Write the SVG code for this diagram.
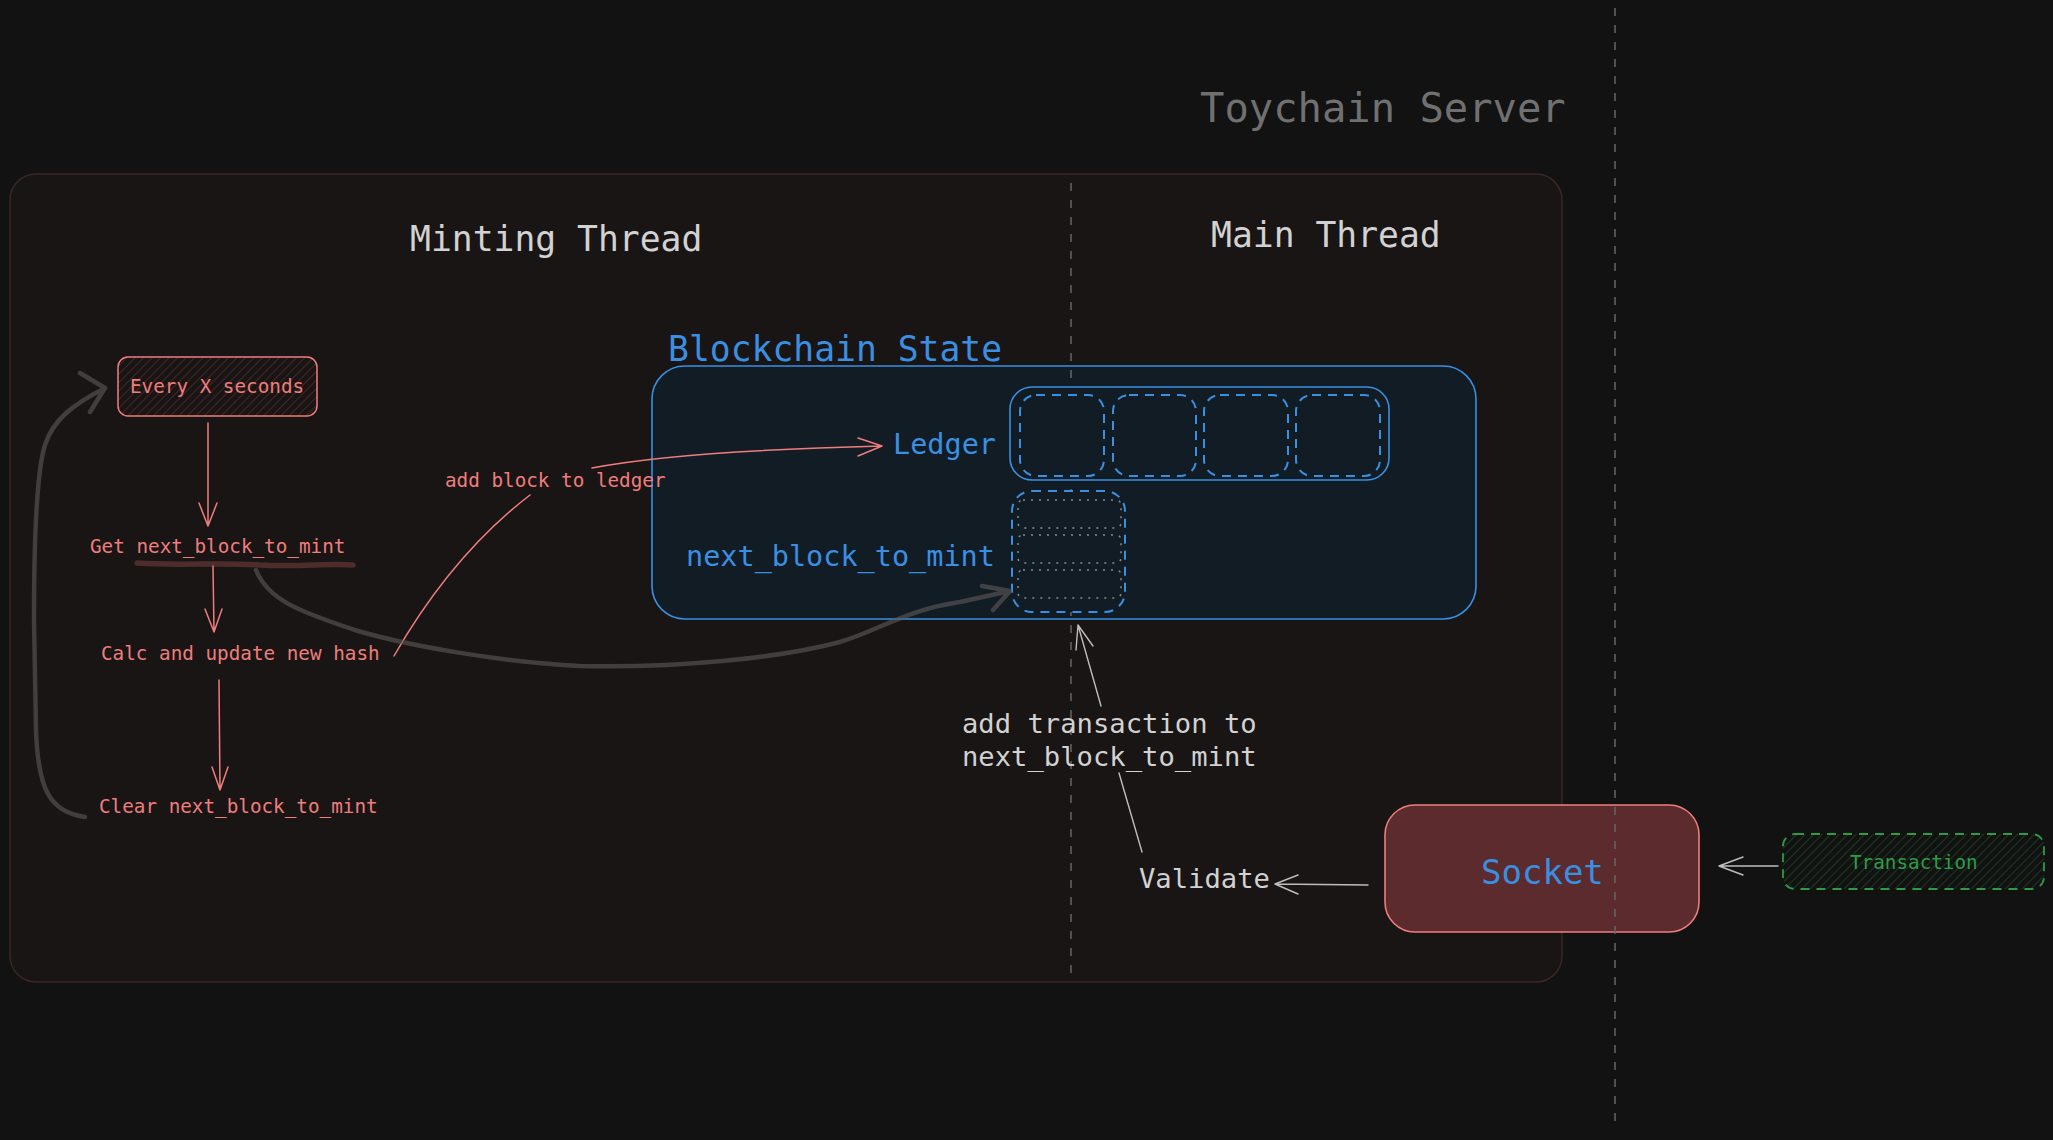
<svg xmlns="http://www.w3.org/2000/svg" width="2053" height="1140" viewBox="0 0 2053 1140">
<defs>
<pattern id="hatchRed" patternUnits="userSpaceOnUse" width="6" height="6" patternTransform="rotate(45)">
<line x1="0" y1="0" x2="0" y2="6" stroke="#4d2c2c" stroke-width="1.6"/>
</pattern>
<pattern id="hatchGreen" patternUnits="userSpaceOnUse" width="6" height="6" patternTransform="rotate(45)">
<line x1="0" y1="0" x2="0" y2="6" stroke="#1d4424" stroke-width="1.6"/>
</pattern>
</defs>
<style>
.mono{font-family:"DejaVu Sans Mono","Liberation Mono",monospace}
.red{fill:#ef7d7d}
.blue{fill:#3a8fe0}
.gray{fill:#d2d2d2}
.s{font-size:19.3px}
.m{font-size:27.2px}
.mb{font-size:28.5px}
.l{font-size:34.7px}
.ra{fill:none;stroke:#ef7d7d;stroke-width:1.5;stroke-linecap:round;stroke-linejoin:round}
.ga{fill:none;stroke:#bdbdbd;stroke-width:1.4;stroke-linecap:round;stroke-linejoin:round}
.br{fill:none;stroke:#5e5a5a;stroke-opacity:0.6;stroke-width:4.5;stroke-linecap:round;stroke-linejoin:round}
.bdash{fill:none;stroke:#3a8fe0;stroke-width:2;stroke-dasharray:9 7}
.bdashf{fill:#121c25;stroke:#3a8fe0;stroke-width:2;stroke-dasharray:9 7}
.dot{fill:none;stroke:#8a8a8a;stroke-width:1.5;stroke-dasharray:2 6}
.vdash{stroke:#666;stroke-width:1.5;stroke-dasharray:8 9}
</style>
<rect width="2053" height="1140" fill="#121212"/>

<g id="server-label">
<text class="mono" x="1200" y="122" font-size="40.5" fill="#707070">Toychain Server</text>
</g>

<g id="container">
<rect x="10" y="174" width="1552" height="808" rx="26" fill="#191514" stroke="#3b2627" stroke-width="1.5"/>
<text class="mono gray l" x="410" y="251">Minting Thread</text>
<text class="mono gray l" x="1211" y="247">Main Thread</text>
</g>

<g id="blockchain-state">
<text class="mono blue l" x="668" y="361">Blockchain State</text>
<rect x="652" y="366" width="824" height="253" rx="33" fill="#121c25" stroke="#3a8fe0" stroke-width="1.6"/>
</g>

<line class="vdash" x1="1071" y1="183" x2="1071" y2="976"/>

<g id="ledger">
<text class="mono blue mb" x="893" y="454">Ledger</text>
<rect x="1010" y="387" width="379" height="93" rx="22" fill="#121c25" stroke="#3a8fe0" stroke-width="1.6"/>
<rect class="bdash" x="1020" y="395" width="84" height="81" rx="16"/>
<rect class="bdash" x="1113" y="395" width="83" height="81" rx="16"/>
<rect class="bdash" x="1204" y="395" width="84" height="81" rx="16"/>
<rect class="bdash" x="1296" y="395" width="84" height="81" rx="16"/>
</g>

<g id="next-block-to-mint">
<text class="mono blue mb" x="686" y="566">next_block_to_mint</text>
<rect class="bdashf" x="1012" y="491" width="113" height="121" rx="20"/>
<rect class="dot" x="1018" y="500" width="103" height="28" rx="5"/>
<rect class="dot" x="1018" y="535" width="103" height="28" rx="5"/>
<rect class="dot" x="1018" y="570" width="103" height="28" rx="5"/>
</g>

<g id="every-x-seconds">
<rect x="118" y="357" width="199" height="59" rx="10" fill="url(#hatchRed)" stroke="#ef7d7d" stroke-width="1.5"/>
<text class="mono red s" x="130" y="393">Every X seconds</text>
</g>

<g id="get-next-block">
<path d="M137,563 C180,566 220,562 260,565 C300,567 330,563 353,565" fill="none" stroke="#4e2c2c" stroke-width="5.5" stroke-linecap="round"/>
<text class="mono red s" x="90" y="553">Get next_block_to_mint</text>
</g>

<g id="calc-hash">
<text class="mono red s" x="101" y="660">Calc and update new hash</text>
</g>

<g id="clear-next-block">
<text class="mono red s" x="99" y="813">Clear next_block_to_mint</text>
</g>

<g id="add-block-label">
<text class="mono red s" x="445" y="487">add block to ledger</text>
</g>

<g id="add-transaction-label">
<text class="mono gray m" x="962" y="733">add transaction to</text>
<text class="mono gray m" x="962" y="766">next_block_to_mint</text>
</g>

<g id="validate">
<text class="mono gray m" x="1139" y="888">Validate</text>
</g>

<g id="socket">
<rect x="1385" y="805" width="314" height="127" rx="30" fill="#5c2b2e" stroke="#ef7d7d" stroke-width="1.6"/>
<text class="mono blue" font-size="34" x="1481" y="884">Socket</text>
</g>

<g id="transaction">
<rect x="1783" y="834" width="261" height="55" rx="12" fill="url(#hatchGreen)" stroke="#2f9a45" stroke-width="1.8" stroke-dasharray="9 7"/>
<text class="mono s" x="1850" y="869" fill="#2f9a45">Transaction</text>
</g>

<line class="vdash" x1="1615" y1="8" x2="1615" y2="1123"/>

<g id="connectors">
<path class="ra" d="M208,423 L208,526 M199,503 L208,526 L217,503"/>
<path class="ra" d="M213,566 L214,632 M205,609 L214,632 L222,609"/>
<path class="ra" d="M219,680 L220,790 M212,767 L220,790 L228,767"/>
<path class="ra" d="M394,656 Q452,555 530,495"/>
<path class="ra" d="M592,468 Q680,451 882,446 M858,438 L882,446 L858,456"/>
<path class="br" d="M85,817 C50,812 38,790 36,730 L34,620 C34,540 37,470 45,445 C53,420 72,405 105,388 M80,373 L105,388 L90,412"/>
<path class="br" d="M256,570 C268,600 300,612 358,631 C410,646 500,662 580,666 C680,668 780,658 840,642 C880,630 905,610 960,602 L1010,591 M982,586 L1010,591 L993,610"/>
<path class="ga" d="M1101,706 L1078,625 M1076,650 L1078,625 L1093,646"/>
<path class="ga" d="M1142,852 L1119,773"/>
<path class="ga" d="M1368,885 L1275,884 M1298,875 L1275,884 L1298,894"/>
<path class="ga" d="M1778,866 L1719,866 M1743,857 L1719,866 L1743,875"/>
</g>
</svg>
